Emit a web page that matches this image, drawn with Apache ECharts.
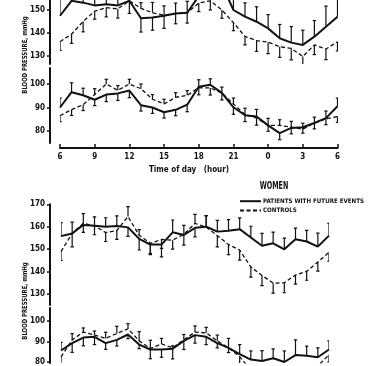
<!DOCTYPE html>
<html><head><meta charset="utf-8">
<script src="https://cdn.jsdelivr.net/npm/echarts@6/dist/echarts.min.js"></script>
<style>html,body{margin:0;padding:0;background:#fff}#c{width:375px;height:366px}</style>
</head><body><div id="c"></div>
<script>
const FONT = "'Liberation Sans Narrow','DejaVu Sans Condensed','Liberation Sans',sans-serif";
const HOURS = [6,7,8,9,10,11,12,13,14,15,16,17,18,19,20,21,22,23,24,25,26,27,28,29,30];
const X_TICKS = [6,9,12,15,18,21,24,27,30];
const X_TICK_LABELS = ['6','9','12','15','18','21','0','3','6'];
const SBP_TICKS_MEN = [130,140,150];
const DBP_TICKS = [80,90,100];
const SBP_TICKS_WOMEN = [130,140,150,160,170];
const NAME_P = 'PATIENTS WITH FUTURE EVENTS';
const NAME_C = 'CONTROLS';

// Men (top panel) systolic
const MEN_SBP_PAT = [147.5,154,153.2,152,152.5,152,154,146.4,146.7,147.5,148.5,148.8,156,159,161,150,147.1,144.9,142,137.7,135.8,134.8,138.4,142.7,147.1];
const MEN_SBP_PAT_ERR = [8,6,6,6,6,6,6,-6,-5.5,-5.5,-4.5,-4.5,6,6,6,6,6,6.5,6,6,7,6.4,7,9,8];
const MEN_SBP_CON = [136.2,139.5,145,149.5,151,150.5,154,150.7,148.8,147.8,148.5,148.8,153,154,150,144.5,138.5,136.7,136,134,133.3,129.8,134.8,133,136.2];
const MEN_SBP_CON_ERR = [-3.8,-4,-4.5,-3.5,-4,-4,-5.5,2.5,4.5,4,4.5,5,-3.7,-4,-3.6,-3.5,-3.7,-4.7,-5,-4.6,-5,-4.3,-4.2,-4.6,-4];
// Men diastolic
const MEN_DBP_PAT = [90,96.5,95.2,93.3,95.5,96,97.2,91,90,88,89,91.2,98.8,99.7,96.2,90.1,86.7,86.2,82.4,79.1,81.3,81.6,83.4,85.5,90.5];
const MEN_DBP_PAT_ERR = [4,4,3,-2.5,-3,-3,-3,-2.5,-2.5,-2.5,-2.5,-3,3,2.5,2.5,-3,3,3,3,-2.8,-2.5,-2.5,2.5,3,3.5];
const MEN_DBP_CON = [86.5,89.1,91.2,95.5,100,97.3,100,98,93.5,91.5,94.3,95.2,98.4,98.3,96.2,91.5,87,85.5,82.4,82.4,81.6,80.8,83.4,85.2,86.2];
const MEN_DBP_CON_ERR = [-2.5,-2.5,-2.5,2.5,2,2,2,2,2,2,2,2,-3,-3,-3,2.5,-3,-3,-2.5,2.4,2.5,2.5,-2.5,-2.5,-2.5];
// Women (bottom panel) systolic
const WOM_SBP_PAT = [155.8,157,160.8,160.4,160,160.3,159.7,154.6,152,152,157.5,156.3,159.5,160,157.8,158.2,158.9,155.2,151.5,152.6,149.9,154.4,153.4,151.1,156];
const WOM_SBP_PAT_ERR = [6,5,5,4,4,4.5,-4,-5,-4.5,-5.5,5.5,-4.5,-4,5,5,5,5,5,5.5,5,5,5,5,6,5.5];
const WOM_SBP_CON = [148.9,157,161.5,160.4,157.4,158.3,164.5,156.2,152.6,154.3,154,156.6,161.5,159.8,156,152,149.6,142,138.2,134.8,135,138.4,140.1,144.2,148.6];
const WOM_SBP_CON_ERR = [-4,-6,-4,-4,-4,-4,4.5,2.5,-4.5,-4,-4,4,4,5,-5,-4.5,-4.5,-4.5,-4.5,-4.5,-4.5,-4,-4,-4,-4];
// Women diastolic
const WOM_DBP_PAT = [85.6,89.2,91.9,92.3,89.2,90.8,93.4,88.5,86.1,86.1,86.5,90.3,93.1,92.3,89.2,86.9,83.8,81.2,80.5,81.8,80,83.4,83.1,82.3,86.1];
const WOM_DBP_PAT_ERR = [4,-4.5,-4,-3.8,-3,-3,-2,-2,-4.5,-3.8,-5,-4.2,-3.9,-3.8,-2.3,-2.3,4.7,4.2,5,4.6,5.4,7.4,4.6,4.6,4.2];
const WOM_DBP_CON = [82.5,90.8,94.6,93.1,91.5,93.9,96.2,90.3,86.6,88.8,86.9,90.8,94.6,94.2,90.3,86.9,82.6,76,74,73,73,74,75.5,78,83.5];
const WOM_DBP_CON_ERR = [-4,3,2,2,3,3.5,2.5,4.5,4,2.7,1,2.6,3,2.7,2.8,4.6,-4,-4,-4,-4,-4,-4,-4,-4,-3.5];

const INK = '#111';
function zip(vals){ return HOURS.map((h,i)=>[h, vals[i]]); }
function zipErr(vals, errs){ return HOURS.map((h,i)=>[h, vals[i], errs[i]]); }

function renderErr(params, api){
  const x = api.value(0), v = api.value(1), e = api.value(2);
  const p0 = api.coord([x, v]);
  const p1 = api.coord([x, v + e]);
  return {type:'group', children:[
    {type:'line', shape:{x1:p0[0], y1:p0[1], x2:p1[0], y2:p1[1]}, style:{stroke:INK, lineWidth:1.2}},
    {type:'line', shape:{x1:p1[0]-1.7, y1:p1[1], x2:p1[0]+1.7, y2:p1[1]}, style:{stroke:INK, lineWidth:1.2}}
  ]};
}
function lineSeries(name, vals, idx, dashed){
  return {type:'line', name:name, xAxisIndex:idx, yAxisIndex:idx, data:zip(vals), symbol:'none', clip:true,
    lineStyle: dashed ? {color:INK, width:1.3, type:[4,2.5]} : {color:INK, width:2},
    itemStyle:{color:INK}, z:3};
}
function errSeries(vals, errs, idx){
  return {type:'custom', name:'err', xAxisIndex:idx, yAxisIndex:idx, data:zipErr(vals, errs),
    renderItem: renderErr, encode:{x:0, y:1}, clip:true, z:2};
}

const labelStyle = {fontSize:8, fontWeight:'bold', fontFamily:FONT, color:INK};
function yAx(idx, min, max, ticks, offset){
  return {type:'value', gridIndex:idx, min:min, max:max, position:'left', offset:offset,
    axisLine:{show:true, lineStyle:{color:INK, width:2}},
    axisTick:{show:true, length:3, customValues:ticks, lineStyle:{color:INK, width:1.5}},
    axisLabel:Object.assign({customValues:ticks, margin:5}, labelStyle),
    splitLine:{show:false}};
}
function xAx(idx, show){
  return {type:'value', gridIndex:idx, min:6, max:30, interval:3, show:show, position:'bottom', offset:5,
    axisLine:{show:true, lineStyle:{color:INK, width:2}},
    axisTick:{show:true, inside:true, length:4, lineStyle:{color:INK, width:1.5}},
    axisLabel:Object.assign({margin:5, formatter:function(v){ const k = X_TICKS.indexOf(v); return k>=0 ? X_TICK_LABELS[k] : ''; }}, labelStyle),
    splitLine:{show:false}};
}

const option = {
  animation:false,
  backgroundColor:'#fff',
  textStyle:{fontFamily:FONT},
  legend:{data:[NAME_P, NAME_C], orient:'vertical', left:239, top:198, padding:0, itemWidth:21, itemHeight:8, itemGap:3,
    itemStyle:{opacity:0, color:'transparent', borderColor:'transparent'},
    textStyle:{fontSize:6.2, fontWeight:'bold', fontFamily:FONT, color:INK, padding:[0,0,0,-3]}},
  grid:[
    {left:60, width:277.5, top:0, height:64},
    {left:60, width:277.5, top:68, height:75},
    {left:61, width:268, top:204.3, height:100.7},
    {left:61, width:268, top:308, height:58}
  ],
  xAxis:[xAx(0,false), xAx(1,true), xAx(2,false), xAx(3,false)],
  yAxis:[
    yAx(0, 126.5, 154.35, SBP_TICKS_MEN, 10),
    yAx(1, 74.9, 106.8, DBP_TICKS, 10),
    yAx(2, 125.04, 170, SBP_TICKS_WOMEN, 11),
    yAx(3, 79.54, 106.33, DBP_TICKS, 11)
  ],
  graphic:[
    {type:'text', x:274, y:186, scaleX:0.68, style:{text:'WOMEN', fontSize:10.5, fontWeight:'bold', fontFamily:FONT, fill:INK, align:'center', verticalAlign:'middle'}},
    {type:'text', x:25, y:55, rotation:Math.PI/2, scaleX:0.85, style:{text:'BLOOD PRESSURE, mmHg', fontSize:7, fontWeight:'bold', fontFamily:FONT, fill:INK, align:'center', verticalAlign:'middle'}},
    {type:'text', x:25, y:301, rotation:Math.PI/2, scaleX:0.85, style:{text:'BLOOD PRESSURE, mmHg', fontSize:7, fontWeight:'bold', fontFamily:FONT, fill:INK, align:'center', verticalAlign:'middle'}},
    {type:'text', x:189, y:170, style:{text:'Time of day   (hour)', fontSize:8, fontWeight:'bold', fontFamily:FONT, fill:INK, align:'center', verticalAlign:'middle'}}
  ],
  series:[
    lineSeries(NAME_P, MEN_SBP_PAT, 0, false), lineSeries(NAME_C, MEN_SBP_CON, 0, true),
    errSeries(MEN_SBP_PAT, MEN_SBP_PAT_ERR, 0), errSeries(MEN_SBP_CON, MEN_SBP_CON_ERR, 0),
    lineSeries(NAME_P, MEN_DBP_PAT, 1, false), lineSeries(NAME_C, MEN_DBP_CON, 1, true),
    errSeries(MEN_DBP_PAT, MEN_DBP_PAT_ERR, 1), errSeries(MEN_DBP_CON, MEN_DBP_CON_ERR, 1),
    lineSeries(NAME_P, WOM_SBP_PAT, 2, false), lineSeries(NAME_C, WOM_SBP_CON, 2, true),
    errSeries(WOM_SBP_PAT, WOM_SBP_PAT_ERR, 2), errSeries(WOM_SBP_CON, WOM_SBP_CON_ERR, 2),
    lineSeries(NAME_P, WOM_DBP_PAT, 3, false), lineSeries(NAME_C, WOM_DBP_CON, 3, true),
    errSeries(WOM_DBP_PAT, WOM_DBP_PAT_ERR, 3), errSeries(WOM_DBP_CON, WOM_DBP_CON_ERR, 3)
  ]
};
const chart = echarts.init(document.getElementById('c'), null, {renderer:'canvas'});
chart.setOption(option);
</script></body></html>
